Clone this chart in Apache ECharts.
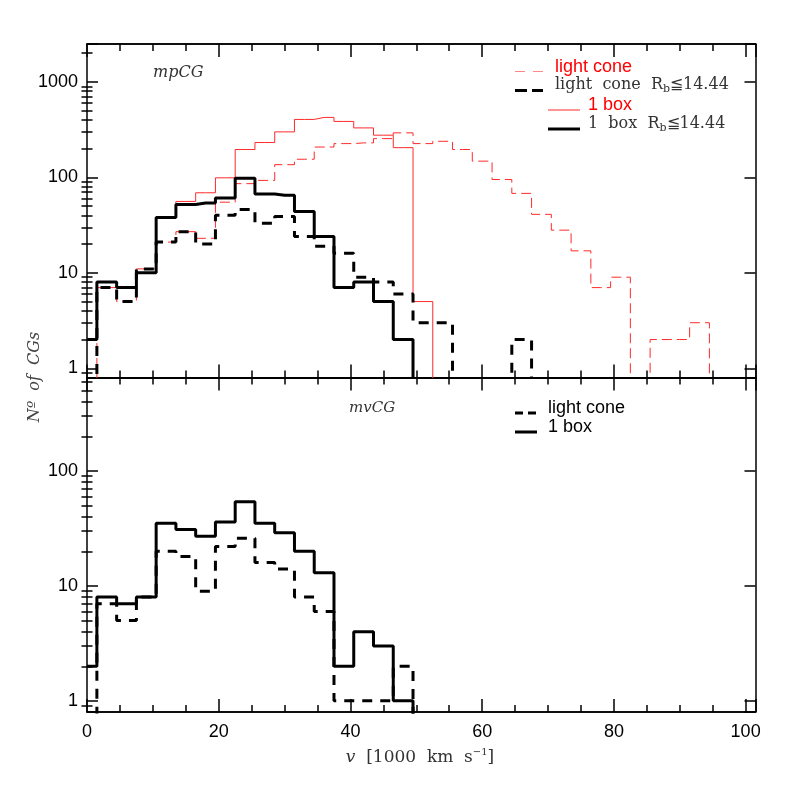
<!DOCTYPE html>
<html><head><meta charset="utf-8">
<script src="https://cdn.jsdelivr.net/npm/echarts@6/dist/echarts.min.js"></script>
<style>html,body{margin:0;padding:0;background:#fff}#c{width:797px;height:797px}</style>
</head><body><div id="c"></div>
<script>
// ---------- data ----------
const binCenters = [0,3,6,9,12,15,18,21,24,27,30,33,36,39,42,45,48,51,54,57,60,63,66,69,72,75,78,81,84,87,90,93,96,99];
// top panel (mpCG)
const mpLightCone   = [0,7,5,11,21,27,23,55,86,93,136,155,208,226,230,255,293,226,239,196,148,95,68,41,28,17,7,9,0,2,2,3,0,0];
const mpLightConeRb = [0,7,5,11,21,27,20,40,46,33,39,24,19,16,9,8,6,3,3,0,0,0,2,0,0,0,0,0,0,0,0,0,0,0];
const mpOneBox      = [2,8,7,10,38,56,69,99,196,232,300,405,425,386,330,277,205,5,0,0,0,0,0,0,0,0,0,0,0,0,0,0,0,0];
const mpOneBoxRb    = [2,8,7,10,38,52,54,61,98,67,65,44,24,7,8,5,2,0,0,0,0,0,0,0,0,0,0,0,0,0,0,0,0,0];
// bottom panel (mvCG)
const mvLightCone   = [0,7,5,8,20,18,9,22,26,16,14,8,6,1,1,1,2,0,0,0,0,0,0,0,0,0,0,0,0,0,0,0,0,0];
const mvOneBox      = [2,8,7,8,35,31,27,36,54,35,29,20,13,2,4,3,1,0,0,0,0,0,0,0,0,0,0,0,0,0,0,0,0,0];

// ---------- ticks ----------
const xTickLabels = [0,20,40,60,80,100];
const yTickLabelsTop = [1,10,100,1000];
const yTickLabelsBottom = [1,10,100];
const yMinorTop = [0.9,2,3,4,5,6,7,8,9,20,30,40,50,60,70,80,90,200,300,400,500,600,700,800,900,2000];
const yMinorBottom = [0.9,2,3,4,5,6,7,8,9,20,30,40,50,60,70,80,90,200,300,400,500,600];

const X_MIN = 0, X_MAX = 101.5;
const TOP_MIN = 0.8, TOP_MAX = 2500;
const BOT_MIN = 0.8, BOT_MAX = 650;
const FLOOR = 0.3; // empty bins drawn below the axis floor (clipped)

const AX = '#000';
const SANS = '"Liberation Sans", Arial, sans-serif';
const SERIF = '"DejaVu Serif", serif';

function pairs(arr){ return binCenters.map((c,i)=>[c, arr[i] > 0 ? arr[i] : FLOOR]); }

function xAxisDef(grid, pos, interval, len, labels){
  return {type:'value', gridIndex:grid, position:pos, min:X_MIN, max:X_MAX, interval:interval,
    axisLine:{show:true, onZero:false, lineStyle:{color:AX, width:1.5}},
    axisTick:{show:true, inside:true, length:len, lineStyle:{color:AX, width:1.5}},
    axisLabel:{show:!!labels, margin:11, color:'#000', fontFamily:SANS, fontSize:18,
      formatter:v => xTickLabels.indexOf(v) >= 0 ? String(v) : ''},
    splitLine:{show:false}, minorTick:{show:false}, minorSplitLine:{show:false}};
}
function yLogDef(grid, pos, mn, mx, labelsArr){
  return {type:'log', logBase:10, gridIndex:grid, position:pos, min:mn, max:mx,
    axisLine:{show:true, onZero:false, lineStyle:{color:AX, width:1.5}},
    axisTick:{show:true, inside:true, length:11, lineStyle:{color:AX, width:1.5}},
    axisLabel:{show:!!labelsArr, margin:9, color:'#000', fontFamily:SANS, fontSize:18,
      formatter:v => { const r = Math.round(v); return (labelsArr && labelsArr.indexOf(r) >= 0 && Math.abs(v - r) < 1e-6 * Math.max(1, r)) ? String(r) : ''; }},
    splitLine:{show:false}, minorTick:{show:false}};
}
function yMinorDef(grid, pos, mn, mx, vals){
  return {type:'value', gridIndex:grid, position:pos, min:Math.log10(mn), max:Math.log10(mx),
    axisLine:{show:false},
    axisTick:{show:true, inside:true, length:5.5, customValues:vals.map(v => Math.log10(v)), lineStyle:{color:AX, width:1.5}},
    axisLabel:{show:false}, splitLine:{show:false}};
}

function stepSeries(name, xi, yi, arr, color, width, dash){
  return {name:name, type:'line', xAxisIndex:xi, yAxisIndex:yi, step:'middle', symbol:'none', showSymbol:false,
    data:pairs(arr), clip:true, silent:true, animation:false,
    lineStyle:{color:color, width:width, type:dash || 'solid'}};
}

const RED = '#ff2a2a';
const serifRich = {
  a:{font:'16px ' + SERIF, fill:'#333', lineHeight:20, verticalAlign:'middle'},
  b:{font:'11px ' + SERIF, fill:'#333', lineHeight:11, verticalAlign:'bottom'}
};
const option = {
  backgroundColor:'#fff',
  animation:false,
  grid:[
    {left:87, top:44, width:668.5, height:333.5, containLabel:false, outerBoundsMode:'none'},
    {left:87, top:377.5, width:668.5, height:334.5, containLabel:false, outerBoundsMode:'none'}
  ],
  xAxis:[
    xAxisDef(0,'bottom',20,13,false),
    xAxisDef(0,'bottom',5,7,false),
    xAxisDef(0,'top',20,13,false),
    xAxisDef(0,'top',5,7,false),
    xAxisDef(1,'bottom',20,13,true),
    xAxisDef(1,'bottom',5,7,false),
    xAxisDef(1,'top',20,13,false),
    xAxisDef(1,'top',5,7,false)
  ],
  yAxis:[
    yLogDef(0,'left',TOP_MIN,TOP_MAX,yTickLabelsTop),
    yLogDef(0,'right',TOP_MIN,TOP_MAX,null),
    yMinorDef(0,'left',TOP_MIN,TOP_MAX,yMinorTop),
    yMinorDef(0,'right',TOP_MIN,TOP_MAX,yMinorTop),
    yLogDef(1,'left',BOT_MIN,BOT_MAX,yTickLabelsBottom),
    yLogDef(1,'right',BOT_MIN,BOT_MAX,null),
    yMinorDef(1,'left',BOT_MIN,BOT_MAX,yMinorBottom),
    yMinorDef(1,'right',BOT_MIN,BOT_MAX,yMinorBottom)
  ],
  series:[
    stepSeries('light cone',0,0,mpLightCone,RED,1,[10,5]),
    stepSeries('1 box',0,0,mpOneBox,RED,1,'solid'),
    stepSeries('light cone Rb<=14.44',0,0,mpLightConeRb,'#000',3,[10,8]),
    stepSeries('1 box Rb<=14.44',0,0,mpOneBoxRb,'#000',3,'solid'),
    stepSeries('mv light cone',4,4,mvLightCone,'#000',3,[10,8]),
    stepSeries('mv 1 box',4,4,mvOneBox,'#000',3,'solid')
  ],
  graphic:[
    // panel labels
    {type:'text', x:153, y:73, style:{text:'mpCG', font:'italic 16px ' + SERIF, fill:'#333', align:'left', verticalAlign:'middle'}},
    {type:'text', x:349, y:408, style:{text:'mvCG', font:'italic 15px ' + SERIF, fill:'#333', align:'left', verticalAlign:'middle'}},
    // top legend
    {type:'line', shape:{x1:515, y1:71.5, x2:543, y2:71.5}, style:{stroke:'#ff8888', lineWidth:1, lineDash:[10,8]}},
    {type:'text', x:555, y:67, style:{text:'light cone', font:'18px ' + SANS, fill:'#ff0000', align:'left', verticalAlign:'middle'}},
    {type:'line', shape:{x1:515, y1:90.5, x2:543, y2:90.5}, style:{stroke:'#000', lineWidth:3, lineDash:[12,5]}},
    {type:'text', x:555, y:85, style:{text:'{a|light  cone  R}{b|b}{a|≦14.44}', align:'left', verticalAlign:'middle', rich:serifRich}},
    {type:'line', shape:{x1:548, y1:110, x2:580, y2:110}, style:{stroke:RED, lineWidth:1}},
    {type:'text', x:588, y:105, style:{text:'1 box', font:'18px ' + SANS, fill:'#ff0000', align:'left', verticalAlign:'middle'}},
    {type:'line', shape:{x1:548, y1:129, x2:580, y2:129}, style:{stroke:'#000', lineWidth:3}},
    {type:'text', x:588, y:124, style:{text:'{a|1  box  R}{b|b}{a|≦14.44}', align:'left', verticalAlign:'middle', rich:serifRich}},
    // bottom legend
    {type:'line', shape:{x1:515, y1:413, x2:537, y2:413}, style:{stroke:'#000', lineWidth:3, lineDash:[8,5]}},
    {type:'text', x:548, y:408, style:{text:'light cone', font:'18px ' + SANS, fill:'#000', align:'left', verticalAlign:'middle'}},
    {type:'line', shape:{x1:515, y1:432, x2:537, y2:432}, style:{stroke:'#000', lineWidth:3}},
    {type:'text', x:548, y:427, style:{text:'1 box', font:'18px ' + SANS, fill:'#000', align:'left', verticalAlign:'middle'}},
    // axis titles
    {type:'text', x:420, y:758, style:{text:'{i|v}{r|  [1000  km  s}{s|−1}{r|]}', align:'center', verticalAlign:'middle',
      rich:{i:{font:'italic 17px ' + SERIF, fill:'#333', lineHeight:22, verticalAlign:'middle'},
            r:{font:'17px ' + SERIF, fill:'#333', lineHeight:22, verticalAlign:'middle'},
            s:{font:'10px ' + SERIF, fill:'#333', lineHeight:12, verticalAlign:'top'}}}},
    {type:'text', x:35, y:377, rotation:Math.PI/2, style:{text:'Nº  of  CGs', font:'italic 16px ' + SERIF, fill:'#444', align:'center', verticalAlign:'middle'}}
  ]
};
const chart = echarts.init(document.getElementById('c'), null, {renderer:'canvas'});
chart.setOption(option);
</script>
</body></html>
